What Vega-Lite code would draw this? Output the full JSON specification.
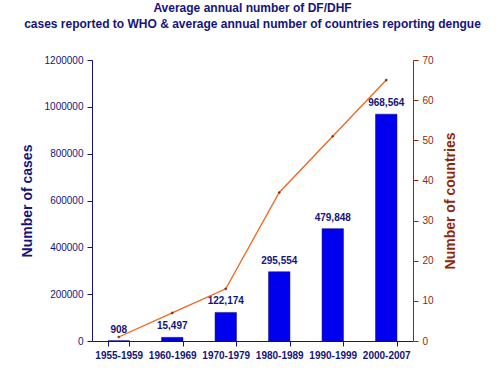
{
  "$schema": "https://vega.github.io/schema/vega-lite/v6.json",
  "autosize": "none",
  "width": 321,
  "height": 281,
  "padding": {"left": 92, "top": 60, "right": 86, "bottom": 29},
  "background": "white",
  "title": {
    "text": ["Average annual number of DF/DHF", "cases reported to WHO & average annual number of countries reporting dengue"],
    "font": "Liberation Sans",
    "fontSize": 12,
    "fontWeight": "bold",
    "color": "#14147a",
    "lineHeight": 16,
    "anchor": "middle",
    "offset": 24
  },
  "config": {
    "view": {"stroke": null},
    "font": "Liberation Sans"
  },
  "data": {
    "values": [
      {"period": "1955-1959", "cases": 908, "countries": 1},
      {"period": "1960-1969", "cases": 15497, "countries": 7},
      {"period": "1970-1979", "cases": 122174, "countries": 13},
      {"period": "1980-1989", "cases": 295554, "countries": 37},
      {"period": "1990-1999", "cases": 479848, "countries": 51},
      {"period": "2000-2007", "cases": 968564, "countries": 65}
    ]
  },
  "encoding": {
    "x": {
      "field": "period",
      "type": "nominal",
      "sort": null,
      "scale": {"paddingInner": 0.6, "paddingOuter": 0.3},
      "axis": {
        "title": null,
        "labelAngle": 0,
        "labelFont": "Liberation Sans",
        "labelFontSize": 10,
        "labelFontWeight": "bold",
        "labelColor": "#14147a",
        "domainColor": "#14147a",
        "domainWidth": 1,
        "tickColor": "#14147a",
        "tickSize": 5,
        "tickOffset": 0,
        "bandPosition": 0,
        "tickBand": "extent",
        "labelPadding": 4,
        "grid": false
      }
    }
  },
  "layer": [
    {
      "layer": [
        {
          "mark": {"type": "bar", "color": "#0000ee", "stroke": "#00007a", "strokeWidth": 0.5},
          "encoding": {
            "y": {
              "field": "cases",
              "type": "quantitative",
              "scale": {"domain": [0, 1200000], "nice": false},
              "axis": {
                "title": "Number of cases",
                "titleFont": "Liberation Sans",
                "titleFontSize": 14,
                "titleFontWeight": "bold",
                "titleColor": "#14147a",
                "titlePadding": 10,
                "values": [0, 200000, 400000, 600000, 800000, 1000000, 1200000],
                "format": "d",
                "labelFont": "Liberation Sans",
                "labelFontSize": 10,
                "labelColor": "#14147a",
                "domainColor": "#14147a",
                "tickColor": "#14147a",
                "tickSize": 5,
                "labelPadding": 4,
                "grid": false
              }
            }
          }
        },
        {
          "mark": {"type": "text", "baseline": "bottom", "dy": -6, "font": "Liberation Sans", "fontSize": 10, "fontWeight": "bold", "color": "#14147a"},
          "encoding": {
            "y": {"field": "cases", "type": "quantitative"},
            "text": {"field": "cases", "type": "quantitative", "format": ","}
          }
        }
      ]
    },
    {
      "mark": {"type": "line", "color": "#f0661a", "strokeWidth": 1.3, "point": {"color": "#8b2a0a", "size": 10, "shape": "diamond"}},
      "encoding": {
        "y": {
          "field": "countries",
          "type": "quantitative",
          "scale": {"domain": [0, 70], "nice": false},
          "axis": {
            "orient": "right",
            "title": "Number of countries",
            "titleFont": "Liberation Sans",
            "titleFontSize": 14,
            "titleFontWeight": "bold",
            "titleColor": "#8b2a0a",
            "titleAngle": 270,
            "titleBaseline": "top",
            "titlePadding": 10,
            "values": [0, 10, 20, 30, 40, 50, 60, 70],
            "labelFont": "Liberation Sans",
            "labelFontSize": 10,
            "labelColor": "#8b2a0a",
            "domainColor": "#8b2a0a",
            "tickColor": "#8b2a0a",
            "tickSize": 5,
            "labelPadding": 4,
            "grid": false
          }
        }
      }
    }
  ],
  "resolve": {"scale": {"y": "independent"}}
}
